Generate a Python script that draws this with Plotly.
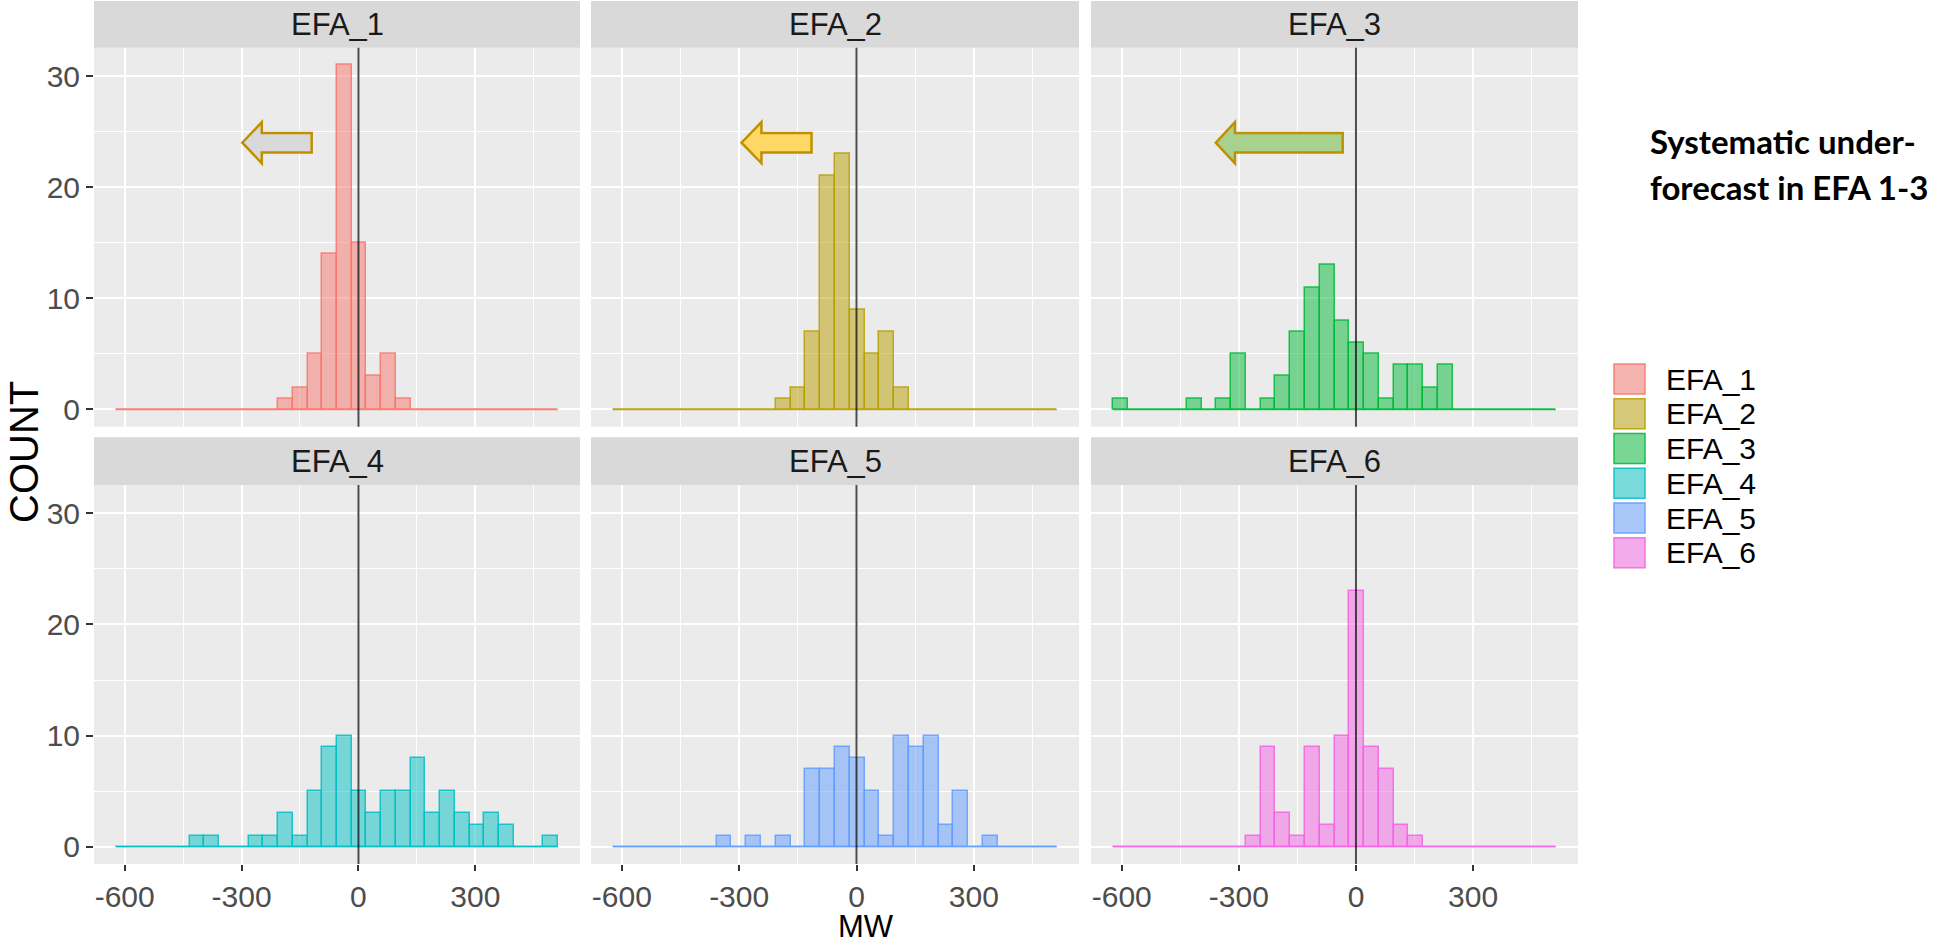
import plotly.graph_objects as go

W, H = 1939, 945

# ---------------- data ----------------
bin_start = -622.0
bin_width = 37.8
n_bins = 30

panels = ["EFA_1", "EFA_2", "EFA_3", "EFA_4", "EFA_5", "EFA_6"]
colors = ["#F8766D", "#B79F00", "#00BA38", "#00BFC4", "#619CFF", "#F564E3"]

efa_1 = [0]*11 + [1, 2, 5, 14, 31, 15, 3, 5, 1] + [0]*10
efa_2 = [0]*11 + [1, 2, 7, 21, 23, 9, 5, 7, 2] + [0]*10
efa_3 = [1, 0, 0, 0, 0, 1, 0, 1, 5, 0, 1, 3, 7, 11, 13, 8, 6, 5, 1, 4, 4, 2, 4, 0, 0, 0, 0, 0, 0, 0]
efa_4 = [0, 0, 0, 0, 0, 1, 1, 0, 0, 1, 1, 3, 1, 5, 9, 10, 5, 3, 5, 5, 8, 3, 5, 3, 2, 3, 2, 0, 0, 1]
efa_5 = [0, 0, 0, 0, 0, 0, 0, 1, 0, 1, 0, 1, 0, 7, 7, 9, 8, 5, 1, 10, 9, 10, 2, 5, 0, 1, 0, 0, 0, 0]
efa_6 = [0, 0, 0, 0, 0, 0, 0, 0, 0, 1, 9, 3, 1, 9, 2, 10, 23, 9, 7, 2, 1, 0, 0, 0, 0, 0, 0, 0, 0, 0]
counts = [efa_1, efa_2, efa_3, efa_4, efa_5, efa_6]

x_tick_vals = [-600, -300, 0, 300]
x_tick_text = ["-600", "-300", "0", "300"]
y_tick_vals = [0, 10, 20, 30]

# annotation arrows (tip x, head-base x, tail x, y) for EFA_1..EFA_3
arrow_tip = [-298, -294, -359]
arrow_base = [-248, -243, -310]
arrow_tail = [-120, -115, -34]
arrow_y = [24.0, 24.0, 24.0]
arrow_fill = ["#D9D9D9", "#FFD966", "#A9D18E"]

note_lines = ["Systematic under-", "forecast in EFA 1-3"]

# ---------------- helpers ----------------
def rgba(hexc, a):
    h = hexc.lstrip("#")
    r, g, b = int(h[0:2], 16), int(h[2:4], 16), int(h[4:6], 16)
    return f"rgba({r},{g},{b},{a})"

def px(x):
    return x / W

def py(y):
    return 1 - y / H

edges = [bin_start + i * bin_width for i in range(n_bins + 1)]
centers = [(edges[i] + edges[i + 1]) / 2 for i in range(n_bins)]
span = edges[-1] - edges[0]
x_range = [edges[0] - 0.05 * span, edges[-1] + 0.05 * span]
ymax = max(max(c) for c in counts)
y_range = [-0.05 * ymax, ymax * 1.05]

col_px = [(94, 580), (591, 1079), (1091, 1578)]
row_px = [(47.7, 426.7), (485, 864)]
strip_px = [(1, 47.7), (437.3, 485)]

FONT = "Liberation Sans, Arial"

fig = go.Figure()
shapes = []
annotations = []

for i, name in enumerate(panels):
    r, c = divmod(i, 3)
    ax = "" if i == 0 else str(i + 1)
    xa, ya = "x" + ax, "y" + ax
    col = colors[i]
    fig.add_trace(go.Bar(
        x=centers, y=counts[i], width=bin_width,
        marker=dict(color=rgba(col, 0.5), line=dict(color=rgba(col, 0.85), width=1.5)),
        xaxis=xa, yaxis=ya, name=name, showlegend=False,
    ))
    # zero-count outline along the baseline (as ggplot draws it)
    fig.add_trace(go.Scatter(
        x=[edges[0], edges[-1]], y=[0, 0], mode="lines",
        line=dict(color=rgba(col, 0.85), width=1.5),
        xaxis=xa, yaxis=ya, showlegend=False, hoverinfo="skip",
    ))
    x0, x1 = col_px[c]
    y0, y1 = row_px[r]
    bottom = r == 1
    left = c == 0
    fig.layout["xaxis" + ax] = dict(
        domain=[px(x0), px(x1)], anchor=ya, range=x_range, automargin=False,
        tickmode="array", tickvals=x_tick_vals, ticktext=x_tick_text,
        showticklabels=bottom, ticks="outside" if bottom else "",
        ticklen=6, tickwidth=1.5, tickcolor="#333333",
        tickfont=dict(family=FONT, size=30, color="#4D4D4D"),
        showgrid=True, gridcolor="white", gridwidth=2, zeroline=False, showline=False,
        minor=dict(tickmode="array", tickvals=[-450, -150, 150, 450], showgrid=True,
                   gridcolor="white", gridwidth=1, ticks=""),
    )
    fig.layout["yaxis" + ax] = dict(
        domain=[py(y1), py(y0)], anchor=xa, range=y_range, automargin=False,
        tickmode="array", tickvals=y_tick_vals,
        showticklabels=left, ticks="outside" if left else "",
        ticklen=7, tickwidth=1.5, tickcolor="#333333",
        tickfont=dict(family=FONT, size=30, color="#4D4D4D"),
        showgrid=True, gridcolor="white", gridwidth=2, zeroline=False, showline=False,
        minor=dict(tickmode="array", tickvals=[5, 15, 25], showgrid=True,
                   gridcolor="white", gridwidth=1, ticks=""),
    )
    # vertical reference line at 0
    shapes.append(dict(type="line", xref=xa, yref=ya + " domain", x0=0, x1=0, y0=0, y1=1,
                       line=dict(color="rgba(0,0,0,0.7)", width=2), layer="above"))
    # strip
    s0, s1 = strip_px[r]
    shapes.append(dict(type="rect", xref="paper", yref="paper",
                       x0=px(x0), x1=px(x1), y0=py(s1), y1=py(s0),
                       fillcolor="#D9D9D9", line=dict(width=0), layer="below"))
    annotations.append(dict(text=name, xref="paper", yref="paper",
                            x=px((x0 + x1) / 2), y=py((s0 + s1) / 2),
                            xanchor="center", yanchor="middle", showarrow=False,
                            font=dict(family=FONT, size=31, color="#1A1A1A")))

# arrows in panels 1-3
for j in range(3):
    ax = "" if j == 0 else str(j + 1)
    t, b, e, y = arrow_tip[j], arrow_base[j], arrow_tail[j], arrow_y[j]
    hs, hh = 0.87, 1.85
    path = (f"M {e},{y + hs} L {b},{y + hs} L {b},{y + hh} L {t},{y} "
            f"L {b},{y - hh} L {b},{y - hs} L {e},{y - hs} Z")
    shapes.append(dict(type="path", xref="x" + ax, yref="y" + ax, path=path,
                       fillcolor=arrow_fill[j], line=dict(color="#BF9000", width=2.5),
                       layer="above"))

# axis titles
annotations.append(dict(text="MW", xref="paper", yref="paper", x=px(866), y=py(926),
                        xanchor="center", yanchor="middle", showarrow=False,
                        font=dict(family=FONT, size=31, color="black")))
annotations.append(dict(text="COUNT", xref="paper", yref="paper", x=px(24), y=py(452),
                        xanchor="center", yanchor="middle", showarrow=False, textangle=-90,
                        font=dict(family=FONT, size=40, color="black")))

# legend (ggplot style keys)
key_x0, key_x1 = 1613, 1646
key_top, key_pitch, key_h = 363, 34.75, 32
for i, name in enumerate(panels):
    k0 = key_top + i * key_pitch
    shapes.append(dict(type="rect", xref="paper", yref="paper",
                       x0=px(key_x0), x1=px(key_x1), y0=py(k0 + key_h), y1=py(k0),
                       fillcolor="#F2F2F2", line=dict(width=0)))
    shapes.append(dict(type="rect", xref="paper", yref="paper",
                       x0=px(key_x0 + 1), x1=px(key_x1 - 1), y0=py(k0 + key_h - 1), y1=py(k0 + 1),
                       fillcolor=rgba(colors[i], 0.5), line=dict(color=rgba(colors[i], 0.85), width=1.5)))
    annotations.append(dict(text=name, xref="paper", yref="paper",
                            x=px(1664), y=py(k0 + key_h / 2),
                            xanchor="left", yanchor="middle", showarrow=False,
                            font=dict(family=FONT, size=30, color="black")))

# note text
for j, line in enumerate(note_lines):
    annotations.append(dict(text=f"<b>{line}</b>", xref="paper", yref="paper",
                            x=px(1648), y=py(141 + j * 46),
                            xanchor="left", yanchor="middle", showarrow=False,
                            font=dict(family="Lato, Carlito, sans-serif", size=33, color="black")))

fig.update_layout(
    width=W, height=H, margin=dict(l=0, r=0, t=0, b=0, autoexpand=False),
    paper_bgcolor="white", plot_bgcolor="#EBEBEB",
    barmode="overlay", bargap=0, showlegend=False,
    shapes=shapes, annotations=annotations,
)

fig.write_html(
    "out.html",
    config={"displayModeBar": False},
    post_script="document.body.style.margin='0px';document.body.style.overflow='hidden';",
)
